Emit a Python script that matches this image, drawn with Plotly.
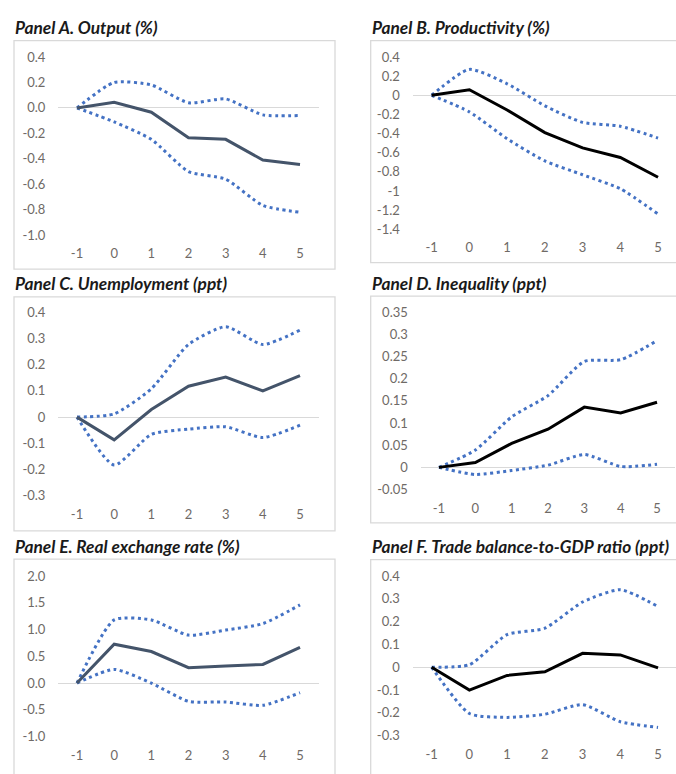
import plotly.graph_objects as go

W, H = 676, 774

horizon = [-1, 0, 1, 2, 3, 4, 5]

titles = ["Panel A. Output (%)", "Panel B. Productivity (%)", "Panel C. Unemployment (ppt)",
          "Panel D. Inequality (ppt)", "Panel E. Real exchange rate (%)",
          "Panel F. Trade balance-to-GDP ratio (ppt)"]

output_mid = [0, 0.044, -0.034, -0.234, -0.247, -0.41, -0.444]
output_hi = [0, 0.2, 0.18, 0.04, 0.07, -0.055, -0.06]
output_lo = [0, -0.11, -0.247, -0.50, -0.56, -0.766, -0.82]

prod_mid = [0, 0.058, -0.154, -0.39, -0.55, -0.65, -0.856]
prod_hi = [0, 0.27, 0.12, -0.11, -0.283, -0.324, -0.447]
prod_lo = [0, -0.174, -0.454, -0.686, -0.83, -0.976, -1.24]

unemp_mid = [0, -0.087, 0.029, 0.118, 0.153, 0.1, 0.158]
unemp_hi = [0, 0.012, 0.108, 0.277, 0.345, 0.277, 0.332]
unemp_lo = [0, -0.183, -0.066, -0.046, -0.037, -0.078, -0.031]

ineq_mid = [0, 0.011, 0.054, 0.086, 0.136, 0.123, 0.147]
ineq_hi = [0, 0.039, 0.114, 0.162, 0.239, 0.243, 0.286]
ineq_lo = [0, -0.016, -0.007, 0.005, 0.029, 0.002, 0.007]

rer_mid = [0, 0.726, 0.59, 0.287, 0.317, 0.348, 0.665]
rer_hi = [0, 1.18, 1.18, 0.896, 0.99, 1.11, 1.46]
rer_lo = [0, 0.256, 0.0, -0.34, -0.354, -0.415, -0.18]

tb_mid = [0, -0.1, -0.036, -0.02, 0.061, 0.054, -0.003]
tb_hi = [0, 0.011, 0.143, 0.171, 0.286, 0.34, 0.266]
tb_lo = [0, -0.203, -0.22, -0.206, -0.164, -0.239, -0.264]

ticks_a = [0.4, 0.2, 0.0, -0.2, -0.4, -0.6, -0.8, -1.0]
labels_a = ["0.4", "0.2", "0.0", "-0.2", "-0.4", "-0.6", "-0.8", "-1.0"]
ticks_b = [0.4, 0.2, 0, -0.2, -0.4, -0.6, -0.8, -1, -1.2, -1.4]
labels_b = ["0.4", "0.2", "0", "-0.2", "-0.4", "-0.6", "-0.8", "-1", "-1.2", "-1.4"]
ticks_c = [0.4, 0.3, 0.2, 0.1, 0, -0.1, -0.2, -0.3]
labels_c = ["0.4", "0.3", "0.2", "0.1", "0", "-0.1", "-0.2", "-0.3"]
ticks_d = [0.35, 0.3, 0.25, 0.2, 0.15, 0.1, 0.05, 0, -0.05]
labels_d = ["0.35", "0.3", "0.25", "0.2", "0.15", "0.1", "0.05", "0", "-0.05"]
ticks_e = [2.0, 1.5, 1.0, 0.5, 0.0, -0.5, -1.0]
labels_e = ["2.0", "1.5", "1.0", "0.5", "0.0", "-0.5", "-1.0"]
ticks_f = [0.4, 0.3, 0.2, 0.1, 0, -0.1, -0.2, -0.3]
labels_f = ["0.4", "0.3", "0.2", "0.1", "0", "-0.1", "-0.2", "-0.3"]

SLATE = "#44546A"
BLACK = "#000000"
BLUE = "#4472C4"
TICKC = "#6f6a66"
FONT = "Lato"

panels = [
    dict(mid=output_mid, hi=output_hi, lo=output_lo, col=SLATE, tv=ticks_a, tt=labels_a,
         px=(58.4, 318.6), py=(50, 232), yr=(-1.0, 0.4), xr=(-1.5, 5.5),
         box=(14, 335, 33.3, 266.7), title=(15, 20)),
    dict(mid=prod_mid, hi=prod_hi, lo=prod_lo, col=BLACK, tv=ticks_b, tt=labels_b,
         px=(412.8, 676), py=(50, 226), yr=(-1.4, 0.4), xr=(-1.5, 5.476),
         box=(370.7, 690, 33.3, 260), title=(372, 20)),
    dict(mid=unemp_mid, hi=unemp_hi, lo=unemp_lo, col=SLATE, tv=ticks_c, tt=labels_c,
         px=(58.4, 318.6), py=(310.7, 498), yr=(-0.3, 0.4), xr=(-1.5, 5.5),
         box=(14, 335, 295, 534), title=(15, 281.5)),
    dict(mid=ineq_mid, hi=ineq_hi, lo=ineq_lo, col=BLACK, tv=ticks_d, tt=labels_d,
         px=(420.8, 675.2), py=(310.7, 491.7), yr=(-0.05, 0.35), xr=(-1.5, 5.5),
         box=(370.7, 690, 294.3, 525.7), title=(372, 281.5)),
    dict(mid=rer_mid, hi=rer_hi, lo=rer_lo, col=SLATE, tv=ticks_e, tt=labels_e,
         px=(58.4, 318.6), py=(580, 744), yr=(-1.0, 2.0), xr=(-1.5, 5.5),
         box=(14, 335, 562.7, 790), title=(15, 549.5)),
    dict(mid=tb_mid, hi=tb_hi, lo=tb_lo, col=BLACK, tv=ticks_f, tt=labels_f,
         px=(412.8, 676), py=(580, 743), yr=(-0.3, 0.4), xr=(-1.5, 5.476),
         box=(370.7, 690, 563.3, 790), title=(372, 549.5)),
]

fig = go.Figure()
shapes = []
annotations = []
layout_axes = {}

for i, p in enumerate(panels):
    n = i + 1
    xa = "x" if n == 1 else f"x{n}"
    ya = "y" if n == 1 else f"y{n}"
    for series in (p["hi"], p["lo"]):
        fig.add_trace(go.Scatter(x=horizon, y=series, mode="lines", xaxis=xa, yaxis=ya,
                                 line=dict(color=BLUE, width=3, dash="3px,3.5px", shape="spline", smoothing=0.6),
                                 showlegend=False, hoverinfo="skip"))
    fig.add_trace(go.Scatter(x=horizon, y=p["mid"], mode="lines", xaxis=xa, yaxis=ya,
                             line=dict(color=p["col"], width=3),
                             showlegend=False))
    xkey = "xaxis" if n == 1 else f"xaxis{n}"
    ykey = "yaxis" if n == 1 else f"yaxis{n}"
    layout_axes[xkey] = dict(
        domain=[p["px"][0] / W, min(p["px"][1] / W, 1.0)], anchor=ya, range=list(p["xr"]),
        tickvals=horizon, ticktext=[str(h) for h in horizon], showgrid=False, zeroline=False,
        showline=False, ticks="", ticklabelstandoff=9,
        tickfont=dict(family=FONT, size=13, color=TICKC), fixedrange=True)
    layout_axes[ykey] = dict(
        domain=[1 - p["py"][1] / H, 1 - p["py"][0] / H], anchor=xa, range=list(p["yr"]),
        tickvals=p["tv"], ticktext=p["tt"], showgrid=False, zeroline=True,
        zerolinecolor="#D9D9D9", zerolinewidth=1.3, showline=False, ticks="",
        ticklabelstandoff=12, tickfont=dict(family=FONT, size=13, color=TICKC), fixedrange=True)
    bx0, bx1, by0, by1 = p["box"]
    shapes.append(dict(type="rect", xref="paper", yref="paper",
                       x0=bx0 / W, x1=bx1 / W, y0=1 - by1 / H, y1=1 - by0 / H,
                       line=dict(color="#D9D9D9", width=1.3), fillcolor="rgba(0,0,0,0)", layer="below"))
    tx, ty = p["title"]
    annotations.append(dict(text=f"<b><i>{titles[i]}</i></b>", xref="paper", yref="paper",
                            x=tx / W, y=1 - ty / H, xanchor="left", yanchor="middle", showarrow=False,
                            xshift=-2, font=dict(family=FONT, size=17.3, color="#1a1a1a")))

fig.update_layout(width=W, height=H, margin=dict(l=0, r=0, t=0, b=0),
                  paper_bgcolor="white", plot_bgcolor="white",
                  shapes=shapes, annotations=annotations, **layout_axes)

fig.write_html("out.html", config={"displayModeBar": False},
               post_script="document.body.style.margin='0';document.body.style.overflow='hidden';")
